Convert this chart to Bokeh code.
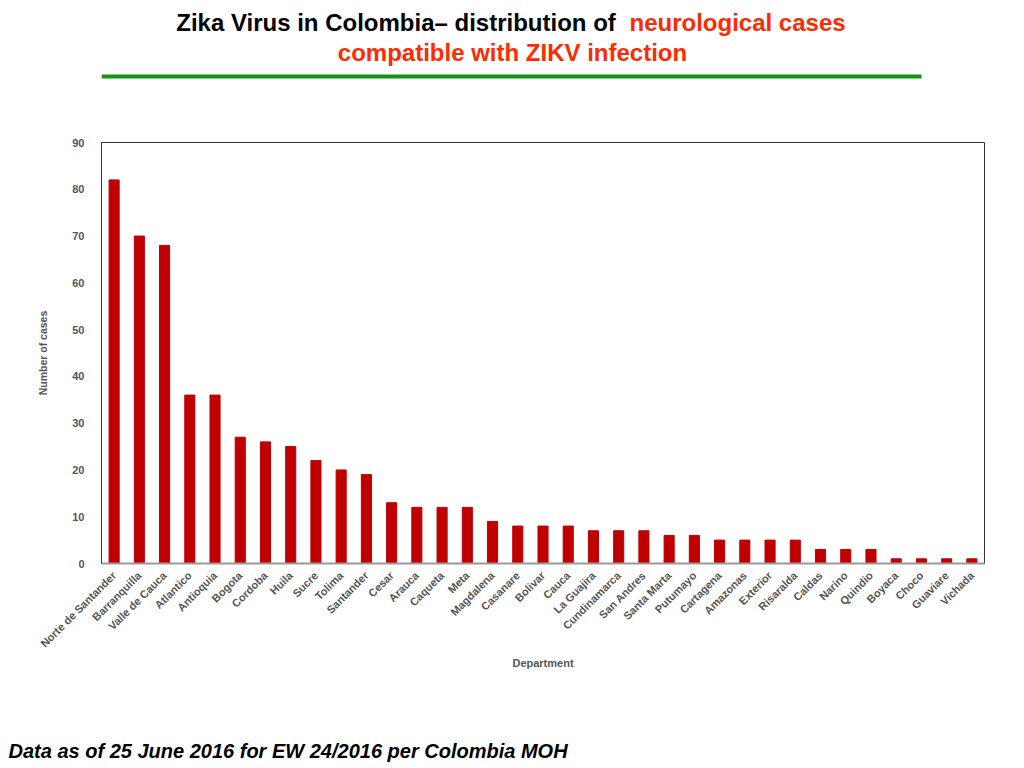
import math
from bokeh.plotting import figure
from bokeh.models import Range1d, FactorRange, FixedTicker, Label, Title, ColumnDataSource
from bokeh.layouts import column
from bokeh.embed import file_html
from bokeh.resources import INLINE

departments = ["Norte de Santander", "Barranquilla", "Valle de Cauca", "Atlantico", "Antioquia",
               "Bogota", "Cordoba", "Huila", "Sucre", "Tolima", "Santander", "Cesar", "Arauca",
               "Caqueta", "Meta", "Magdalena", "Casanare", "Bolivar", "Cauca", "La Guajira",
               "Cundinamarca", "San Andres", "Santa Marta", "Putumayo", "Cartagena", "Amazonas",
               "Exterior", "Risaralda", "Caldas", "Narino", "Quindio", "Boyaca", "Choco",
               "Guaviare", "Vichada"]
cases = [82, 70, 68, 36, 36, 27, 26, 25, 22, 20, 19, 13, 12, 12, 12, 9, 8, 8, 8, 7, 7, 7,
         6, 6, 5, 5, 5, 5, 3, 3, 3, 1, 1, 1, 1]
y_ticks = [0, 10, 20, 30, 40, 50, 60, 70, 80, 90]

title_black = "Zika Virus in Colombia\u2013  distribution of"
title_red1 = "neurological cases"
title_red2 = "compatible with ZIKV infection"
footer = "Data as of 25 June 2016 for EW 24/2016 per Colombia MOH"

FONT = "Liberation Sans"
W = 1008
# frames of all stacked figures are aligned by the column layout: page x 101..984
FL, FR = 101, 984
EXTRA = 49

# ---- title strip ----
top = figure(width=W, height=128, x_range=Range1d(FL, FR), y_range=Range1d(128, 0),
             output_backend="svg", toolbar_location=None,
             min_border_left=FL, min_border_right=W - FR, min_border_top=0, min_border_bottom=0)
top.axis.visible = False
top.grid.visible = False
top.outline_line_color = None
top.add_layout(Label(x=622, y=22, text=title_black, text_align="right", text_baseline="middle",
                     text_font=FONT, text_font_style="bold", text_font_size="24px", text_color="#000000"))
top.add_layout(Label(x=629, y=22, text=title_red1, text_align="left", text_baseline="middle",
                     text_font=FONT, text_font_style="bold", text_font_size="24px", text_color="#FF2A00"))
top.add_layout(Label(x=512, y=52, text=title_red2, text_align="center", text_baseline="middle",
                     text_font=FONT, text_font_style="bold", text_font_size="24px", text_color="#FF2A00"))
top.segment(x0=[FL], y0=[76], x1=[921], y1=[76], line_color="#129212", line_width=4)

# ---- main chart ----
src = ColumnDataSource(dict(dept=departments, cases=cases))
p = figure(width=W, height=560 + EXTRA, x_range=FactorRange(factors=departments, range_padding=0),
           y_range=Range1d(0, 90), output_backend="svg", toolbar_location=None,
           min_border_left=FL, min_border_right=W - FR, min_border_top=14,
           min_border_bottom=125 + EXTRA)
p.vbar(x="dept", top="cases", width=0.4, source=src, fill_color="#C00000", line_color="#C00000")
p.grid.visible = False
p.outline_line_color = "#333333"

p.yaxis.ticker = FixedTicker(ticks=y_ticks)
p.yaxis.major_tick_line_color = None
p.yaxis.minor_tick_line_color = None
p.yaxis.axis_line_color = "#333333"
p.yaxis.major_label_text_font = FONT
p.yaxis.major_label_text_font_style = "bold"
p.yaxis.major_label_text_font_size = "11px"
p.yaxis.major_label_text_color = "#555555"
p.yaxis.major_label_standoff = 11
p.yaxis.axis_label = "Number of cases"
p.yaxis.axis_label_text_font = FONT
p.yaxis.axis_label_text_font_style = "bold"
p.yaxis.axis_label_text_font_size = "10.5px"
p.yaxis.axis_label_text_color = "#555555"
p.yaxis.axis_label_standoff = 20

p.xaxis.major_tick_line_color = None
p.xaxis.minor_tick_line_color = None
p.xaxis.axis_line_color = "#999999"
p.xaxis.axis_line_width = 2
p.xaxis.major_label_orientation = math.pi / 4
p.xaxis.major_label_text_font = FONT
p.xaxis.major_label_text_font_style = "bold"
p.xaxis.major_label_text_font_size = "11px"
p.xaxis.major_label_text_color = "#555555"
p.xaxis.major_label_standoff = 4
p.xaxis.axis_label = "Department"
p.xaxis.axis_label_text_font = FONT
p.xaxis.axis_label_text_font_style = "bold"
p.xaxis.axis_label_text_font_size = "11px"
p.xaxis.axis_label_text_color = "#555555"
p.xaxis.axis_label_standoff = 0

# ---- footer (as a title, which is not clipped to the frame) ----
bot = figure(width=W, height=80 - EXTRA, x_range=Range1d(FL, FR), y_range=Range1d(0, 1),
             output_backend="svg", toolbar_location=None,
             min_border_left=FL, min_border_right=W - FR, min_border_top=0, min_border_bottom=0)
bot.axis.visible = False
bot.grid.visible = False
bot.outline_line_color = None
bot.add_layout(Title(text=footer, align="left", offset=-(FL - 8), standoff=0,
                     text_font=FONT, text_font_style="bold italic", text_font_size="20px",
                     text_color="#000000"), "above")

layout = column(top, p, bot, spacing=0)
open("out.html", "w").write(file_html(layout, INLINE))
